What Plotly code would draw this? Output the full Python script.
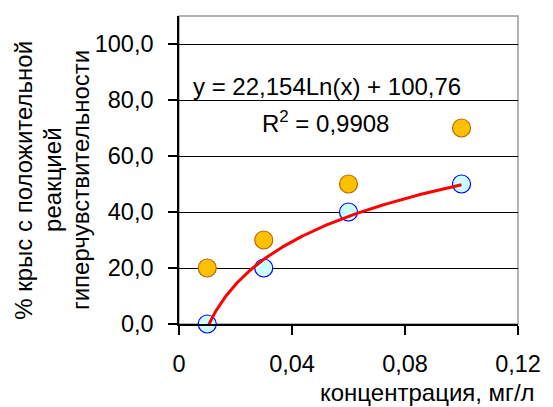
import numpy as np
import plotly.graph_objects as go

# Concentration, mg/l
conc = [0.01, 0.03, 0.06, 0.10]
# % of rats with positive hypersensitivity reaction (two series)
series_fit = [0.0, 20.0, 40.0, 50.0]
series_other = [20.0, 30.0, 50.0, 70.0]

# Logarithmic trend y = a*ln(x) + b
coef_a = 22.154
coef_b = 100.76
r2 = 0.9908

x_tick_vals = [0, 0.04, 0.08, 0.12]
x_tick_text = ["0", "0,04", "0,08", "0,12"]
y_tick_vals = [0, 20, 40, 60, 80, 100]
y_tick_text = ["0,0", "20,0", "40,0", "60,0", "80,0", "100,0"]

y_title_lines = ["% крыс с положительной", "реакцией", "гиперчувствительности"]
x_title = "концентрация, мг/л"

font = "Liberation Sans, Arial, sans-serif"

xt = np.linspace(min(conc), max(conc), 200)
yt = coef_a * np.log(xt) + coef_b

fig = go.Figure()

fig.add_trace(go.Scatter(
    x=conc, y=series_other, mode="markers", cliponaxis=False,
    marker=dict(size=18, color="#FFC000", line=dict(color="#B86A00", width=1.2)),
))
fig.add_trace(go.Scatter(
    x=conc, y=series_fit, mode="markers", cliponaxis=False,
    marker=dict(size=18, color="#CCFFFF", line=dict(color="#0000FF", width=1.2)),
))
fig.add_trace(go.Scatter(
    x=xt, y=yt, mode="lines", cliponaxis=False,
    line=dict(color="#FF0000", width=3),
))

# plot-area frame (top and right sides in grey)
fig.add_shape(type="rect", xref="paper", yref="paper", x0=0, x1=1, y0=0, y1=1,
              line=dict(color="#9A9A9A", width=1.5), layer="below")

eq_text = "y = %sLn(x) + %s" % (f"{coef_a:.3f}".replace(".", ","), f"{coef_b:.2f}".replace(".", ","))
r2_text = "R<sup>2</sup> = " + f"{r2:.4f}".replace(".", ",")

fig.add_annotation(x=0.0044, y=85.0, xref="x", yref="y", xanchor="left", yanchor="middle",
                   text=eq_text, showarrow=False,
                   font=dict(family=font, size=24, color="#000000"))
fig.add_annotation(x=0.0285, y=72.3, xref="x", yref="y", xanchor="left", yanchor="middle",
                   text=r2_text, showarrow=False,
                   font=dict(family=font, size=24, color="#000000"))

fig.update_layout(
    width=553, height=407,
    margin=dict(l=179, r=25, t=16, b=83),
    paper_bgcolor="white", plot_bgcolor="white",
    showlegend=False,
    font=dict(family=font, size=23, color="#000000"),
    xaxis=dict(
        range=[0, 0.12], tickvals=x_tick_vals, ticktext=x_tick_text,
        showgrid=False, zeroline=False, showline=True, linecolor="#000000", linewidth=1.5,
        ticks="outside", ticklen=9, tickwidth=1.5, tickcolor="#000000",
        tickfont=dict(family=font, size=23.5), ticklabelstandoff=9,
        anchor="y",
    ),
    yaxis=dict(
        range=[0, 110], tickvals=y_tick_vals, ticktext=y_tick_text,
        showgrid=True, gridcolor="#000000", gridwidth=1.2,
        zeroline=False, showline=True, linecolor="#000000", linewidth=1.5,
        ticks="outside", ticklen=9, tickwidth=1.5, tickcolor="#000000",
        tickfont=dict(family=font, size=23.5), ticklabelstandoff=10,
    ),
)

# x title, right-aligned below the axis
fig.add_annotation(x=1.056, y=-0.221, xref="paper", yref="paper", xanchor="right", yanchor="middle",
                   text=x_title, showarrow=False,
                   font=dict(family=font, size=24, color="#000000"))

# three-line rotated y title, one annotation per line for tight spacing
for i, line in enumerate(y_title_lines):
    px = 19 + 29 * i
    fig.add_annotation(x=(px - 179) / 349, y=0.467, xref="paper", yref="paper",
                       xanchor="center", yanchor="middle",
                       text=line, showarrow=False, textangle=-90,
                       font=dict(family=font, size=24, color="#000000"))

fig.write_html("out.html")
